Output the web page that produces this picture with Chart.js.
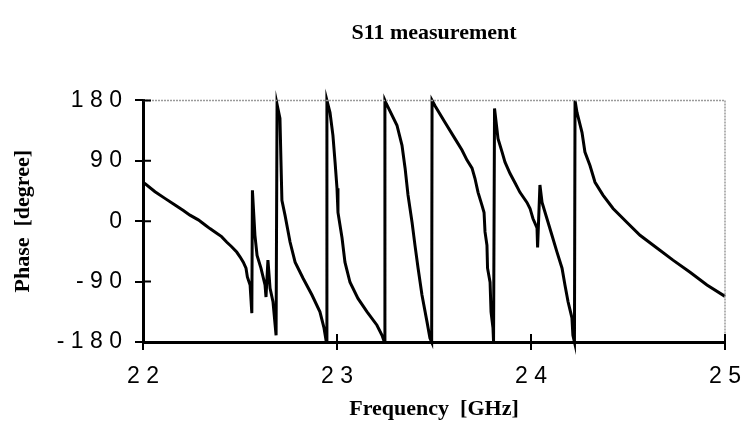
<!DOCTYPE html>
<html>
<head>
<meta charset="utf-8">
<script src="https://cdn.jsdelivr.net/npm/chart.js@4/dist/chart.umd.min.js"></script>
<style>
  html, body { margin: 0; padding: 0; background: #ffffff; }
  #wrap { width: 743px; height: 448px; position: relative; }
</style>
</head>
<body>
<div id="wrap"><canvas id="c" width="743" height="448"></canvas></div>
<script>
// Frequency samples [GHz]
const freqGHz = [
  22.000, 22.010, 22.062, 22.113, 22.165, 22.208, 22.242, 22.285, 22.322, 22.345, 22.380, 22.405, 22.431, 22.457, 22.483, 22.500, 22.517, 22.531, 22.538, 22.552, 22.561,
  22.564, 22.577, 22.588, 22.608, 22.629, 22.634, 22.644, 22.655, 22.670, 22.686,
  22.691, 22.706, 22.711, 22.716, 22.732, 22.758, 22.784, 22.825, 22.871, 22.912, 22.933, 22.945,
  22.948, 22.964, 22.979, 22.990, 23.000, 23.005, 23.026, 23.041, 23.067, 23.108, 23.155, 23.206, 23.232, 23.244,
  23.247, 23.253, 23.309, 23.335, 23.351, 23.366, 23.387, 23.402, 23.418, 23.438, 23.464, 23.479, 23.488,
  23.490, 23.505, 23.557, 23.608, 23.644, 23.670, 23.696, 23.711, 23.727, 23.747, 23.758, 23.763, 23.773, 23.776, 23.789, 23.794, 23.804, 23.807,
  23.812, 23.830, 23.851, 23.866, 23.892, 23.918, 23.943, 23.979, 23.995, 24.010, 24.031, 24.034, 24.046, 24.057, 24.082, 24.108, 24.134, 24.160, 24.175, 24.191, 24.211, 24.216, 24.224,
  24.227, 24.237, 24.263, 24.278, 24.304, 24.330, 24.371, 24.423, 24.495, 24.562, 24.649, 24.732, 24.820, 24.907, 25.000
];
// Phase of S11 [degree] at each sample
const phaseDeg = [
  57, 56, 44, 34, 24, 16, 9, 2, -6, -11, -18, -23, -31, -38, -46, -53, -61, -70, -83, -95, -137,
  46, -21, -51, -70, -95, -113, -58, -100, -120, -170,
  174, 153, 91, 31, 9, -31, -61, -85, -110, -135, -159, -180,
  180, 162, 128, 88, 49, 13, -25, -61, -91, -115, -135, -155, -170, -180,
  180, 176, 143, 113, 79, 39, -2, -36, -70, -110, -150, -174, -180,
  180, 172, 147, 123, 106, 91, 79, 64, 43, 24, 13, -16, -36, -70, -91, -135, -159, -180,
  168, 123, 103, 88, 71, 57, 43, 28, 19, 4, -10, -39, 54, 28, 4, -21, -46, -70, -95, -120, -144, -170, -180,
  180, 162, 132, 103, 83, 58, 39, 19, -2, -21, -40, -58, -76, -95, -112
];
// Tick values and their labels as printed in the reference
const xTickValues = [22, 23, 24, 25];
const xTickLabels = ['2 2', '2 3', '2 4', '2 5'];
const yTickValues = [-180, -90, 0, 90, 180];
const yTickLabels = ['- 1 8 0', '- 9 0', '0', '9 0', '1 8 0'];

const points = freqGHz.map((f, i) => ({ x: f, y: phaseDeg[i] }));

const framePlugin = {
  id: 'frame',
  afterDraw(chart) {
    const { ctx, chartArea } = chart;
    const { left, right, top, bottom } = chartArea;
    const xs = chart.scales.x, ys = chart.scales.y;
    ctx.save();
    // dotted top and right frame
    ctx.strokeStyle = '#9a9a9a';
    ctx.lineWidth = 1.5;
    ctx.setLineDash([2, 1]);
    ctx.beginPath();
    ctx.moveTo(left, top);
    ctx.lineTo(right, top);
    ctx.lineTo(right, bottom);
    ctx.stroke();
    ctx.setLineDash([]);
    // inner halves of tick marks
    ctx.strokeStyle = '#000';
    ctx.lineWidth = 2;
    ctx.beginPath();
    yTickValues.forEach(v => {
      const py = ys.getPixelForValue(v);
      ctx.moveTo(left, py);
      ctx.lineTo(left + 8, py);
    });
    xTickValues.forEach(v => {
      const px = xs.getPixelForValue(v);
      ctx.moveTo(px, bottom);
      ctx.lineTo(px, bottom - 8);
    });
    ctx.stroke();
    ctx.restore();
  }
};

new Chart(document.getElementById('c'), {
  type: 'line',
  data: {
    datasets: [{
      data: points,
      borderColor: '#000',
      borderWidth: 3,
      pointRadius: 0,
      tension: 0,
      fill: false,
      clip: false
    }]
  },
  options: {
    responsive: false,
    animation: false,
    devicePixelRatio: 1,
    layout: { padding: { left: 0, right: 18, top: 0, bottom: 0 } },
    plugins: {
      legend: { display: false },
      tooltip: { enabled: false },
      title: {
        display: true,
        text: 'S11 measurement',
        fullSize: false,
        color: '#000',
        font: { family: 'Liberation Serif', size: 22, weight: 'bold', lineHeight: 1.2 },
        padding: { top: 20, bottom: 54 }
      }
    },
    scales: {
      x: {
        type: 'linear',
        min: 22, max: 25,
        afterFit(s) { s.height = 106; s.paddingLeft = 0; s.paddingRight = 0; },
        afterBuildTicks(s) { s.ticks = xTickValues.map(v => ({ value: v })); },
        ticks: {
          color: '#000',
          padding: 13,
          maxRotation: 0,
          font: { family: 'Liberation Sans', size: 23 },
          callback: (v) => xTickLabels[xTickValues.indexOf(v)]
        },
        grid: { display: true, drawOnChartArea: false, drawTicks: true, tickLength: 8, color: '#000', lineWidth: 2 },
        border: { display: true, color: '#000', width: 3 },
        title: {
          display: true,
          text: 'Frequency  [GHz]',
          color: '#000',
          font: { family: 'Liberation Serif', size: 22, weight: 'bold', lineHeight: 1.2 },
          padding: { top: 0, bottom: 25 }
        }
      },
      y: {
        type: 'linear',
        min: -180, max: 180,
        afterFit(s) { s.width = 143; s.paddingTop = 0; s.paddingBottom = 0; },
        afterBuildTicks(s) { s.ticks = yTickValues.map(v => ({ value: v })); },
        ticks: {
          color: '#000',
          padding: 13,
          font: { family: 'Liberation Sans', size: 23 },
          callback: (v) => yTickLabels[yTickValues.indexOf(v)]
        },
        grid: { display: true, drawOnChartArea: false, drawTicks: true, tickLength: 8, color: '#000', lineWidth: 2 },
        border: { display: true, color: '#000', width: 3 },
        title: {
          display: true,
          text: 'Phase  [degree]',
          color: '#000',
          font: { family: 'Liberation Serif', size: 22, weight: 'bold', lineHeight: 1.2 },
          padding: { top: 10, bottom: 0 }
        }
      }
    }
  },
  plugins: [framePlugin]
});
</script>
</body>
</html>
